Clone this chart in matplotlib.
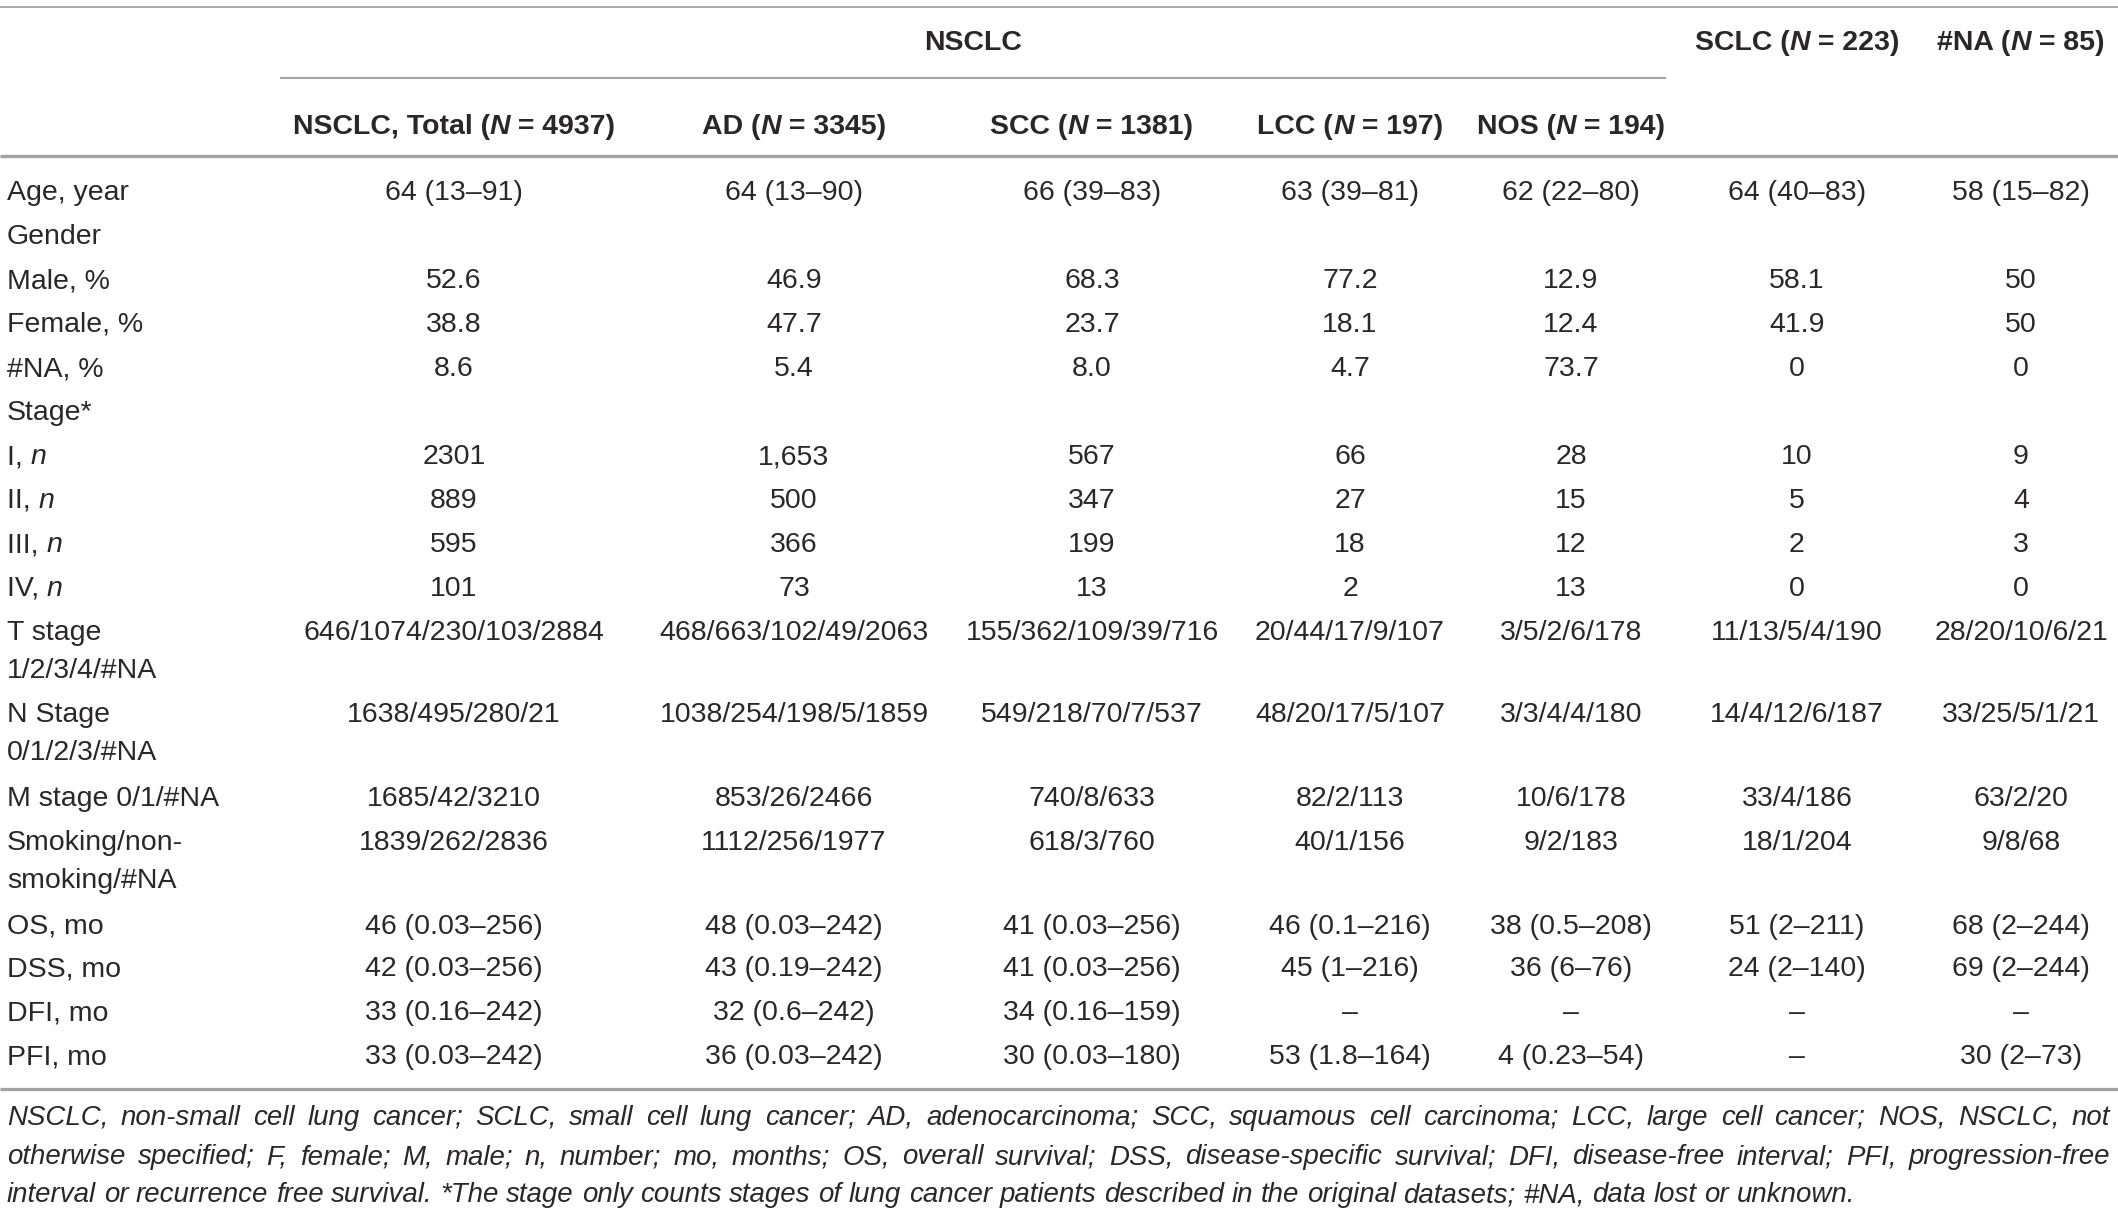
import matplotlib
matplotlib.use("Agg")
import matplotlib.pyplot as plt

# ---------------- data ----------------
group_headers = ["NSCLC", "SCLC (N = 223)", "#NA (N = 85)"]
sub_headers = ["NSCLC, Total (N = 4937)", "AD (N = 3345)", "SCC (N = 1381)",
               "LCC (N = 197)", "NOS (N = 194)"]

row_labels = ["Age, year", "Gender", "Male, %", "Female, %", "#NA, %", "Stage*",
              "I, n", "II, n", "III, n", "IV, n", "T stage\n1/2/3/4/#NA",
              "N Stage\n0/1/2/3/#NA", "M stage 0/1/#NA", "Smoking/non-\nsmoking/#NA",
              "OS, mo", "DSS, mo", "DFI, mo", "PFI, mo"]

col_total = ["64 (13–91)", "", "52.6", "38.8", "8.6", "", "2301", "889", "595", "101",
             "646/1074/230/103/2884", "1638/495/280/21", "1685/42/3210", "1839/262/2836",
             "46 (0.03–256)", "42 (0.03–256)", "33 (0.16–242)", "33 (0.03–242)"]
col_ad = ["64 (13–90)", "", "46.9", "47.7", "5.4", "", "1,653", "500", "366", "73",
          "468/663/102/49/2063", "1038/254/198/5/1859", "853/26/2466", "1112/256/1977",
          "48 (0.03–242)", "43 (0.19–242)", "32 (0.6–242)", "36 (0.03–242)"]
col_scc = ["66 (39–83)", "", "68.3", "23.7", "8.0", "", "567", "347", "199", "13",
           "155/362/109/39/716", "549/218/70/7/537", "740/8/633", "618/3/760",
           "41 (0.03–256)", "41 (0.03–256)", "34 (0.16–159)", "30 (0.03–180)"]
col_lcc = ["63 (39–81)", "", "77.2", "18.1", "4.7", "", "66", "27", "18", "2",
           "20/44/17/9/107", "48/20/17/5/107", "82/2/113", "40/1/156",
           "46 (0.1–216)", "45 (1–216)", "–", "53 (1.8–164)"]
col_nos = ["62 (22–80)", "", "12.9", "12.4", "73.7", "", "28", "15", "12", "13",
           "3/5/2/6/178", "3/3/4/4/180", "10/6/178", "9/2/183",
           "38 (0.5–208)", "36 (6–76)", "–", "4 (0.23–54)"]
col_sclc = ["64 (40–83)", "", "58.1", "41.9", "0", "", "10", "5", "2", "0",
            "11/13/5/4/190", "14/4/12/6/187", "33/4/186", "18/1/204",
            "51 (2–211)", "24 (2–140)", "–", "–"]
col_na = ["58 (15–82)", "", "50", "50", "0", "", "9", "4", "3", "0",
          "28/20/10/6/21", "33/25/5/1/21", "63/2/20", "9/8/68",
          "68 (2–244)", "69 (2–244)", "–", "30 (2–73)"]
columns = [col_total, col_ad, col_scc, col_lcc, col_nos, col_sclc, col_na]

footnote_lines = [
    "NSCLC, non-small cell lung cancer; SCLC, small cell lung cancer; AD, adenocarcinoma; SCC, squamous cell carcinoma; LCC, large cell cancer; NOS, NSCLC, not",
    "otherwise specified; F, female; M, male; n, number; mo, months; OS, overall survival; DSS, disease-specific survival; DFI, disease-free interval; PFI, progression-free",
    "interval or recurrence free survival. *The stage only counts stages of lung cancer patients described in the original datasets; #NA, data lost or unknown.",
]

# ---------------- layout ----------------
W, H = 2118, 1213
DPI = 100
FONT = ["Liberation Sans", "DejaVu Sans"]
FS = 20.5
FS_FOOT = 19.9
TXT = "#2b2728"
RULE = "#a3a3a3"

col_x = [454, 794, 1092, 1350, 1571, 1797, 2021]
row_y = [189, 234, 278, 321, 366, 409, 454, 497, 542, 585, 629, 712, 796, 839,
         923, 966, 1010, 1054]
second_line_gap = 38
label_x = 7
cap_half = 10.5   # half digit height -> baseline offset

fig = plt.figure(figsize=(W / DPI, H / DPI), dpi=DPI)
ax = fig.add_axes([0, 0, 1, 1])
ax.set_xlim(0, W)
ax.set_ylim(H, 0)
ax.axis("off")
renderer = fig.canvas.get_renderer()


def width_of(t):
    bb = t.get_window_extent(renderer=renderer)
    return bb.width


def rich(x, y, segments, ha="center", weight="normal", fs=FS):
    """segments: list of (text, italic_flag)."""
    objs = []
    for s, it in segments:
        t = ax.text(0, y + cap_half, s, fontsize=fs, family=FONT, color=TXT,
                    fontweight=weight, fontstyle="italic" if it else "normal",
                    ha="left", va="baseline")
        objs.append(t)
    widths = [width_of(t) for t in objs]
    total = sum(widths)
    if ha == "center":
        start = x - total / 2
    elif ha == "left":
        start = x
    else:
        start = x - total
    cur = start
    for t, w in zip(objs, widths):
        t.set_x(cur)
        cur += w
    return objs


def segs_with_italic_N(s):
    if "(N" in s:
        a, b = s.split("(N", 1)
        return [(a + "(", False), ("N", True), (b, False)]
    return [(s, False)]


# rules
ax.plot([0, W], [7, 7], color=RULE, lw=1.3, solid_capstyle="butt")
ax.plot([280, 1666], [78, 78], color=RULE, lw=1.5, solid_capstyle="butt")
ax.plot([0, W], [156, 156], color=RULE, lw=2.4, solid_capstyle="butt")
ax.plot([0, W], [1089, 1089], color=RULE, lw=2.4, solid_capstyle="butt")

# group headers
rich(973, 40, segs_with_italic_N(group_headers[0]), weight="bold")
rich(col_x[5], 40, segs_with_italic_N(group_headers[1]), weight="bold")
rich(col_x[6], 40, segs_with_italic_N(group_headers[2]), weight="bold")

# sub headers
for i, h in enumerate(sub_headers):
    rich(col_x[i], 123, segs_with_italic_N(h), weight="bold")

# row labels
for lab, y in zip(row_labels, row_y):
    lines = lab.split("\n")
    for k, line in enumerate(lines):
        yy = y + k * second_line_gap
        if line.endswith(", n"):
            rich(label_x, yy, [(line[:-1], False), ("n", True)], ha="left")
        else:
            rich(label_x, yy, [(line, False)], ha="left")

# cell values
for cx, col in zip(col_x, columns):
    for val, y in zip(col, row_y):
        if val:
            ax.text(cx, y + cap_half, val, fontsize=FS, family=FONT, color=TXT,
                    ha="center", va="baseline")

# footnote (justified first two lines)
foot_y = [1116, 1155, 1193]
left, right = 7, 2110
for i, (line, y) in enumerate(zip(footnote_lines, foot_y)):
    words = line.split(" ")
    objs = [ax.text(0, y + 9, w, fontsize=FS_FOOT, family=FONT, color=TXT,
                    fontstyle="italic", ha="left", va="baseline") for w in words]
    widths = [width_of(t) for t in objs]
    if i < len(footnote_lines) - 1:
        gap = (right - left - sum(widths)) / (len(words) - 1)
    else:
        sp = ax.text(0, 0, "a a", fontsize=FS_FOOT, family=FONT, fontstyle="italic")
        sp2 = ax.text(0, 0, "aa", fontsize=FS_FOOT, family=FONT, fontstyle="italic")
        gap = width_of(sp) - width_of(sp2)
        sp.remove(); sp2.remove()
    cur = left
    for t, w in zip(objs, widths):
        t.set_x(cur)
        cur += w + gap

fig.savefig("out.png", dpi=DPI)
